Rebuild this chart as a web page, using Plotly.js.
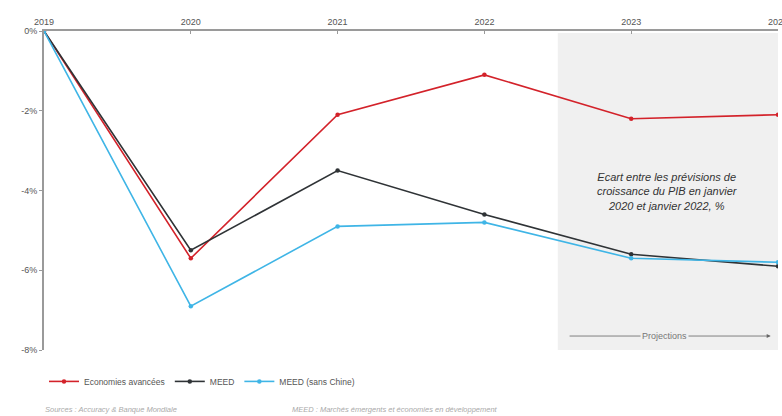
<!DOCTYPE html>
<html>
<head>
<meta charset="utf-8">
<script src="https://cdn.plot.ly/plotly-3.0.1.min.js"></script>
<style>
  html, body { margin: 0; padding: 0; background: #fff; overflow: hidden; }
  #chart { width: 782px; height: 416px; }
</style>
</head>
<body>
<div id="chart"></div>
<script>
// Years and GDP forecast gaps (%), Jan 2020 vs Jan 2022 forecasts
const years = [2019, 2020, 2021, 2022, 2023, 2024];
const economiesAvancees = [0, -5.7, -2.1, -1.1, -2.2, -2.1];
const meed = [0, -5.5, -3.5, -4.6, -5.6, -5.9];
const meedSansChine = [0, -6.9, -4.9, -4.8, -5.7, -5.8];
const yTickVals = [0, -2, -4, -6, -8];
const yTickText = ['0%', '-2%', '-4%', '-6%', '-8%'];
const seriesNames = ['Economies avancées', 'MEED', 'MEED (sans Chine)'];

const FONT = 'Liberation Sans, Arial, sans-serif';

function series(y, name, color) {
  return {
    x: years, y: y, name: name, type: 'scatter', mode: 'lines+markers',
    line: { color: color, width: 1.6 },
    marker: { color: color, size: 4.5 }
  };
}

const data = [
  series(economiesAvancees, seriesNames[0], '#d3222a'),
  series(meed, seriesNames[1], '#2f3336'),
  series(meedSansChine, seriesNames[2], '#3fb5e6')
];

const layout = {
  width: 782, height: 416,
  margin: { l: 44, r: 4, t: 31, b: 66 },
  paper_bgcolor: '#ffffff', plot_bgcolor: '#ffffff',
  font: { family: FONT, size: 9, color: '#555' },
  showlegend: true,
  legend: {
    orientation: 'h', x: 0.0, xanchor: 'left', y: -0.053, yanchor: 'top',
    font: { size: 8.5, color: '#555', family: FONT },
    itemwidth: 30, tracegroupgap: 0
  },
  xaxis: {
    side: 'top', range: [2019, 2024], tickvals: years, ticktext: years.map(String),
    ticklabeloverflow: 'allow',
    showgrid: false, zeroline: false, showline: true, linecolor: '#9a9a9a', linewidth: 2,
    ticks: 'inside', ticklen: 3, tickcolor: '#9a9a9a',
    tickfont: { size: 9, color: '#555', family: FONT }, fixedrange: true
  },
  yaxis: {
    range: [-8, 0], tickvals: yTickVals, ticktext: yTickText,
    showgrid: false, zeroline: false, showline: true, linecolor: '#9a9a9a', linewidth: 2,
    ticks: 'outside', ticklen: 3, tickcolor: '#9a9a9a',
    tickfont: { size: 9, color: '#555', family: FONT }, fixedrange: true
  },
  shapes: [
    {
      type: 'rect', xref: 'x', yref: 'y', x0: 2022.5, x1: 2024, y0: -8.05, y1: -0.05,
      fillcolor: '#f0f0f0', line: { width: 0 }, layer: 'below'
    }
  ],
  annotations: [
    {
      xref: 'x', yref: 'y', x: 2023.25, y: -4.03,
      text: '<i>Ecart entre les prévisions de<br>croissance du PIB en janvier<br>2020 et janvier 2022, %</i>',
      showarrow: false, align: 'center',
      font: { size: 11, color: '#333', family: FONT }
    },
    {
      xref: 'x', yref: 'y', axref: 'x', ayref: 'y',
      x: 2023.95, y: -7.65, ax: 2022.57, ay: -7.65,
      text: '', showarrow: true, arrowhead: 2, arrowsize: 1, arrowwidth: 0.8, arrowcolor: '#666'
    },
    {
      xref: 'x', yref: 'y', x: 2023.23, y: -7.65,
      text: 'Projections', showarrow: false, bgcolor: '#f0f0f0', borderpad: 1,
      font: { size: 9, color: '#777', family: FONT }
    },
    {
      xref: 'paper', yref: 'paper', x: -0.001, y: -0.185, xanchor: 'left', yanchor: 'middle',
      text: '<i>Sources : Accuracy & Banque Mondiale</i>', showarrow: false,
      font: { size: 7.5, color: '#aaa', family: FONT }
    },
    {
      xref: 'paper', yref: 'paper', x: 0.335, y: -0.185, xanchor: 'left', yanchor: 'middle',
      text: '<i>MEED : Marchés émergents et économies en développement</i>', showarrow: false,
      font: { size: 7.5, color: '#aaa', family: FONT }
    }
  ]
};

Plotly.newPlot('chart', data, layout, { displayModeBar: false, staticPlot: true });
</script>
</body>
</html>
